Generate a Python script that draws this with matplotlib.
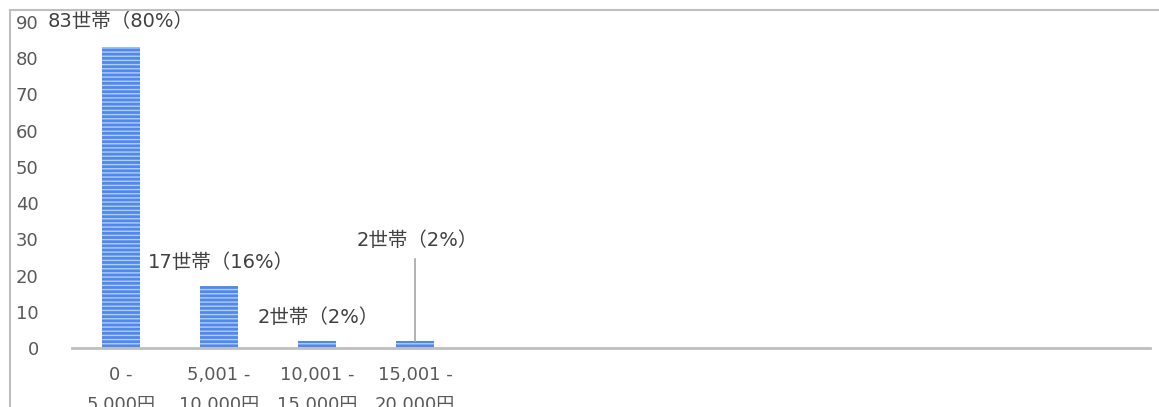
import matplotlib.pyplot as plt
from matplotlib.patches import Rectangle

plt.rcParams['font.family'] = ['DejaVu Sans', 'Noto Sans CJK JP']

# 月額の区分と世帯数
categories = ['0 -\n5,000円', '5,001 -\n10,000円', '10,001 -\n15,000円', '15,001 -\n20,000円']
households = [83, 17, 2, 2]
labels = ['83世帯（80%）', '17世帯（16%）', '2世帯（2%）', '2世帯（2%）']
n_slots = 11

fig = plt.figure(figsize=(11.59, 4.07), dpi=100)
# 外枠（右と下ははみ出している）
fig.patches.append(Rectangle((10 / 1159, -0.1), 1.2, 1 - 10 / 407 + 0.1,
                             transform=fig.transFigure, fill=False,
                             edgecolor='#bfbfbf', linewidth=1.5))

ax = fig.add_axes([0.0621, 0.145, 0.9301, 0.801])
x = list(range(len(households)))
ax.bar(x, households, width=0.38, color='#4f89ec', edgecolor='#b3cdf8',
       hatch='----', linewidth=0)

ax.set_xlim(-0.5, n_slots - 0.5)
ax.set_ylim(0, 90)
ax.set_yticks(range(0, 91, 10))
ax.set_xticks(x)
ax.set_xticklabels(categories, linespacing=1.85)
ax.tick_params(axis='y', length=0, pad=24, labelsize=13, labelcolor='#595959')
ax.tick_params(axis='x', length=0, pad=13, labelsize=13, labelcolor='#595959')
for s in ['top', 'right', 'left']:
    ax.spines[s].set_visible(False)
ax.spines['bottom'].set_color('#bfbfbf')
ax.spines['bottom'].set_linewidth(2)

# データラベル（棒の中心からのずれ, 高さ）
lab_pos = [(0.0, 90), (0.02, 23.5), (0.01, 8.3), (0.02, 29.8)]
for i, ((dx, ly), lab) in enumerate(zip(lab_pos, labels)):
    ax.text(i + dx, ly, lab, ha='center', va='center',
            fontsize=14, color='#404040')
# 引き出し線
ax.plot([3, 3], [24.7, households[3]], color='#a6a6a6', linewidth=1.2)

fig.savefig('out.png', dpi=100)
